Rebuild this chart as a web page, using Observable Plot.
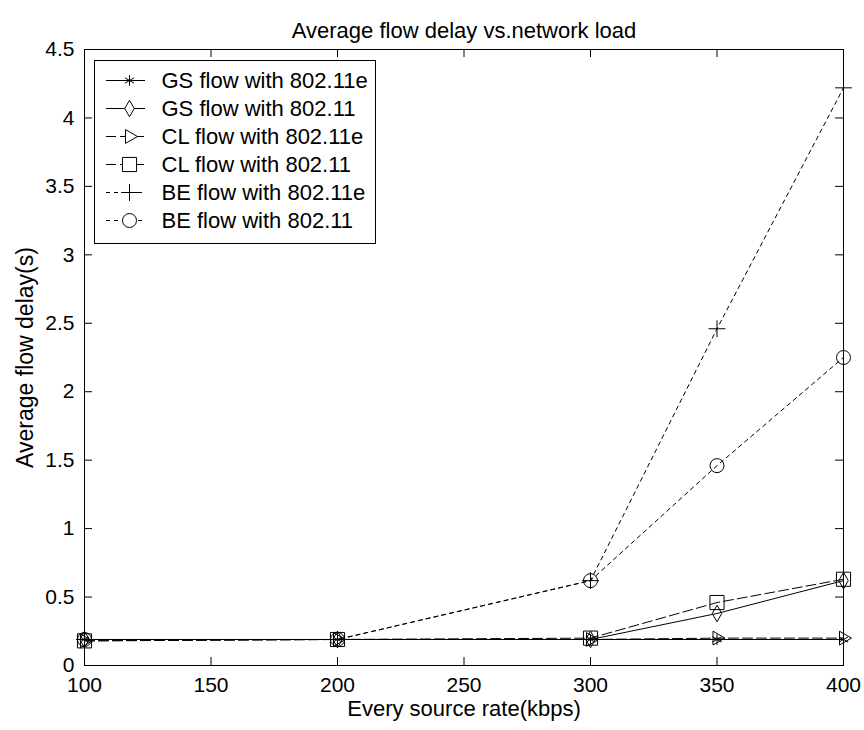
<!DOCTYPE html>
<html>
<head>
<meta charset="utf-8">
<script src="https://cdn.jsdelivr.net/npm/d3@7"></script>
<script src="https://cdn.jsdelivr.net/npm/@observablehq/plot@0.6"></script>
<style>
  html, body { margin: 0; padding: 0; background: #fff; }
  #wrap { position: relative; width: 864px; height: 730px; background: #fff; }
  #legend { position: absolute; left: 93px; top: 59px; }
</style>
</head>
<body>
<div id="wrap"><div id="main"></div><div id="legend"></div></div>
<script>
// ---- data ----
const rates = [100, 200, 300, 350, 400];
const gs11e = [0.19, 0.19, 0.19, 0.19, 0.19];
const gs11  = [0.19, 0.19, 0.19, 0.38, 0.62];
const cl11e = [0.18, 0.19, 0.19, 0.20, 0.20];
const cl11  = [0.18, 0.19, 0.20, 0.46, 0.63];
const be11e = [0.19, 0.19, 0.62, 2.46, 4.22];
const be11  = [0.19, 0.19, 0.62, 1.46, 2.25];
const seriesNames = ["GS flow with 802.11e", "GS flow with 802.11", "CL flow with 802.11e",
                     "CL flow with 802.11", "BE flow with 802.11e", "BE flow with 802.11"];
const xTicks = [100, 150, 200, 250, 300, 350, 400];
const yTicks = [0, 0.5, 1, 1.5, 2, 2.5, 3, 3.5, 4, 4.5];
const titleText = "Average flow delay vs.network load";
const xLabel = "Every source rate(kbps)";
const yLabel = "Average flow delay(s)";

// ---- styles ----
const styles = [
  {symbol: "asterisk", r: 5,   rotate: 0,  dash: null},
  {symbol: "diamond",  r: 5,   rotate: 0,  dash: null},
  {symbol: "triangle2",r: 6.6, rotate: 90, dash: "10,4"},
  {symbol: "square2",  r: 9,   rotate: 0,  dash: "10,4"},
  {symbol: "plus",     r: 5.5, rotate: 0,  dash: "4,4"},
  {symbol: "circle",   r: 7,   rotate: 0,  dash: "4,4"}
];
const values = [gs11e, gs11, cl11e, cl11, be11e, be11];
const series = seriesNames.map((name, i) => ({
  name, ...styles[i],
  data: rates.map((x, j) => ({x, y: values[i][j]}))
}));

const font = "'Liberation Sans', Arial, Helvetica, sans-serif";
const W = 864, H = 730, mL = 84, mR = 21, mT = 49, mB = 65;
const plotW = W - mL - mR, plotH = H - mT - mB, tk = 8;

const marks = [];
for (const s of series) {
  marks.push(Plot.line(s.data, {x: "x", y: "y", stroke: "black", strokeWidth: 1,
    strokeDasharray: s.dash ?? undefined}));
}
for (const s of series) {
  marks.push(Plot.dot(s.data, {x: "x", y: "y", symbol: s.symbol, r: s.r, rotate: s.rotate,
    stroke: "black", fill: "none", strokeWidth: 1}));
}
// inward ticks on all four sides
marks.push(Plot.tickX(xTicks, {x: d => d, insetTop: plotH - tk, stroke: "black"}));
marks.push(Plot.tickX(xTicks, {x: d => d, insetBottom: plotH - tk, stroke: "black"}));
marks.push(Plot.tickY(yTicks, {y: d => d, insetRight: plotW - tk, stroke: "black"}));
marks.push(Plot.tickY(yTicks, {y: d => d, insetLeft: plotW - tk, stroke: "black"}));
marks.push(Plot.axisX(xTicks, {tickSize: 0, tickPadding: 12, fontSize: 21, label: null, tickFormat: d => String(d)}));
marks.push(Plot.axisY(yTicks, {tickSize: 0, tickPadding: 10, fontSize: 21, label: null, tickFormat: d => String(d)}));
marks.push(Plot.frame({stroke: "black", strokeWidth: 1}));
marks.push(Plot.text([titleText], {frameAnchor: "top", dy: -27, fontSize: 22, text: d => d}));
marks.push(Plot.text([xLabel], {frameAnchor: "bottom", dy: 50, fontSize: 22, text: d => d}));
marks.push(Plot.text([yLabel], {frameAnchor: "left", dx: -59, rotate: -90, textAnchor: "middle",
  fontSize: 23, text: d => d}));

const chart = Plot.plot({
  width: W, height: H,
  marginLeft: mL, marginRight: mR, marginTop: mT, marginBottom: mB,
  style: {fontFamily: font, fontSize: "21px", color: "black", background: "white"},
  x: {domain: [100, 400], axis: null},
  y: {domain: [0, 4.5], axis: null},
  marks
});
document.getElementById("main").appendChild(chart);

// ---- legend ----
const LW = 281, LH = 183;
const lmarks = [Plot.frame({stroke: "black", strokeWidth: 1, fill: "white"})];
for (const s of series) {
  lmarks.push(Plot.ruleY([s.name], {y: d => d, x1: 12, x2: 51, stroke: "black", strokeWidth: 1,
    strokeDasharray: s.dash ?? undefined}));
  lmarks.push(Plot.dot([s.name], {y: d => d, x: 35, symbol: s.symbol, r: s.r, rotate: s.rotate,
    stroke: "black", fill: "white", strokeWidth: 1}));
}
lmarks.push(Plot.text(seriesNames, {y: d => d, x: 67, text: d => d, textAnchor: "start",
  fontSize: 22, fill: "black"}));
const legend = Plot.plot({
  width: LW + 2, height: LH + 2, margin: 1,
  style: {fontFamily: font, fontSize: "22px", color: "black", background: "transparent", overflow: "visible"},
  x: {domain: [0, LW], axis: null},
  y: {type: "point", domain: seriesNames, range: [19, 162], padding: 0, axis: null},
  marks: lmarks
});
document.getElementById("legend").appendChild(legend);
</script>
</body>
</html>
